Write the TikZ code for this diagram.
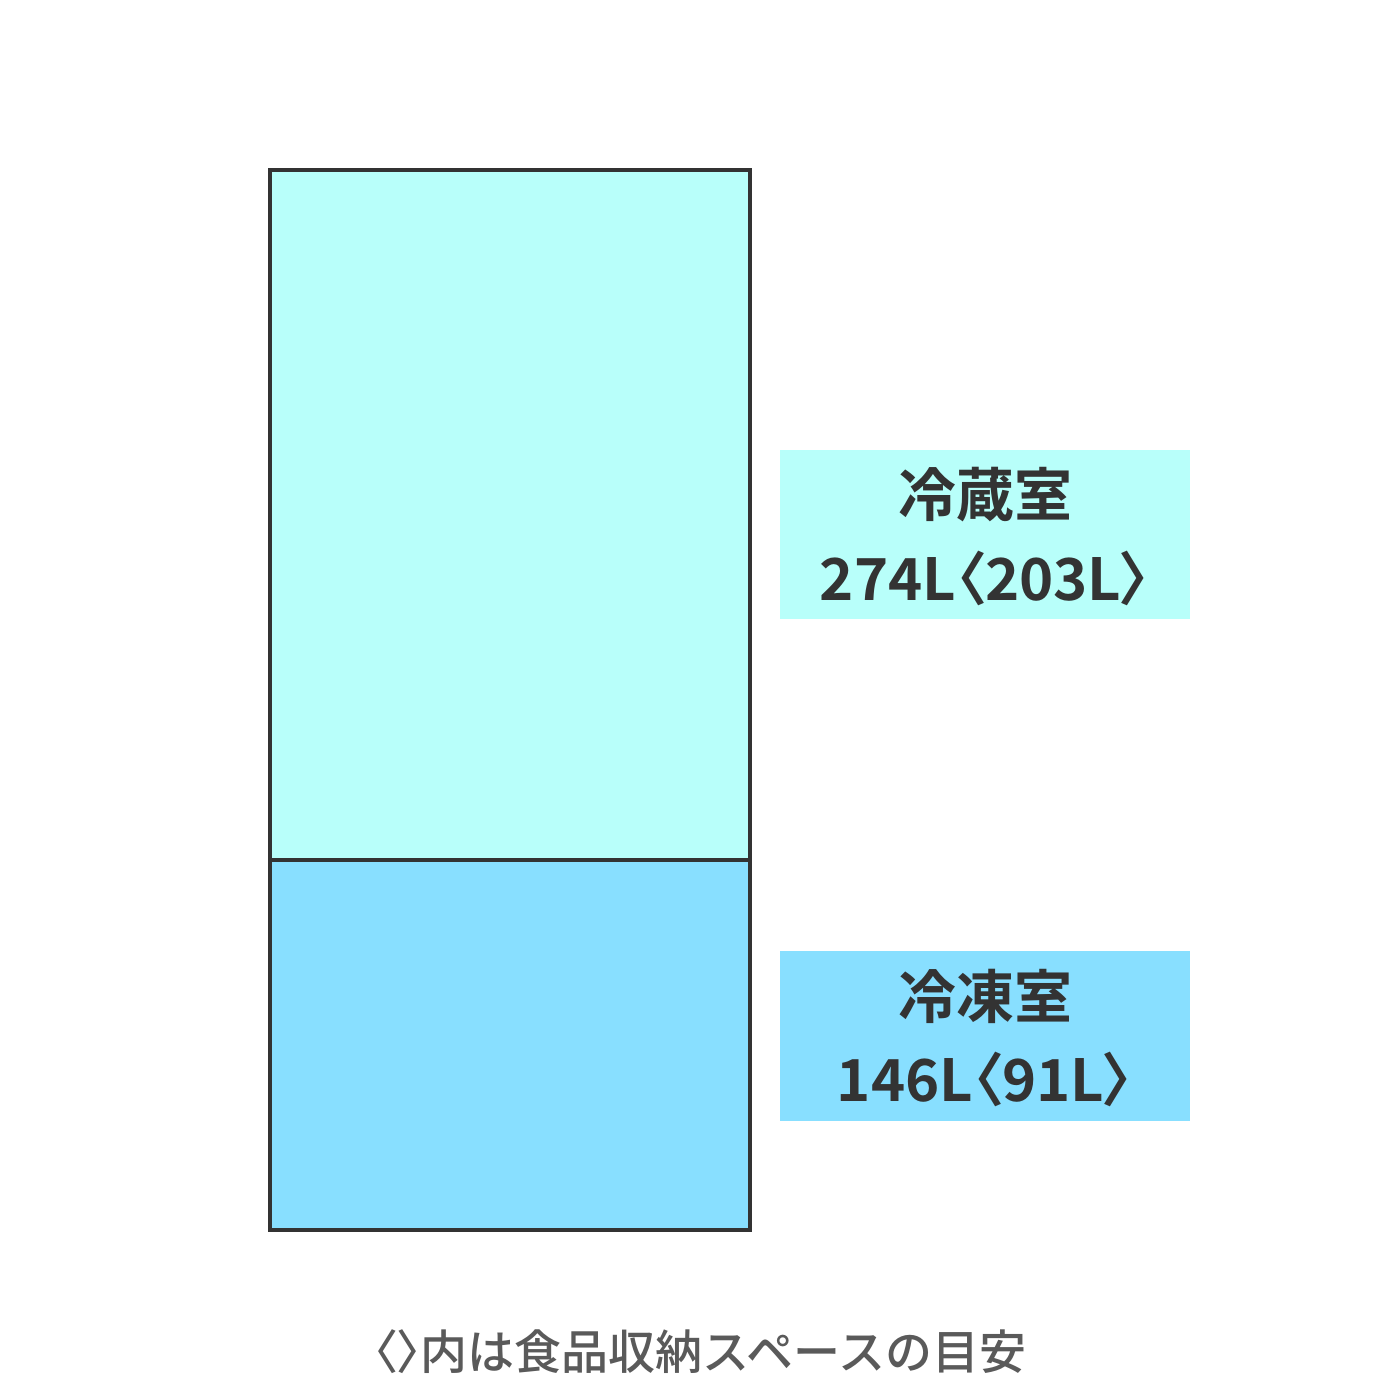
\documentclass[tikz,border=0pt]{standalone}
\usepackage{fontspec}
\newfontfamily\jpb{Noto Sans CJK JP Bold}
\newfontfamily\jpbp[RawFeature=+palt]{Noto Sans CJK JP Bold}
\newfontfamily\jpm{Noto Sans CJK JP Medium}
\newfontfamily\jpmp[RawFeature=+palt]{Noto Sans CJK JP Medium}
\definecolor{upc}{RGB}{184,255,250}
\definecolor{loc}{RGB}{136,223,255}
\definecolor{edge}{RGB}{51,51,51}
\definecolor{cap}{RGB}{90,90,90}
\begin{document}
\begin{tikzpicture}[x=0.5pt,y=-0.5pt,
  lbl/.style={font=\jpb\fontsize{29pt}{34pt}\selectfont, text=edge, inner sep=0pt},
  capt/.style={font=\jpm\fontsize{23.5pt}{28pt}\selectfont, text=cap, inner sep=0pt}]
\useasboundingbox (0,0) rectangle (1400,1400);
\fill[white] (0,0) rectangle (1400,1400);
% compartments
\fill[upc] (270,170) rectangle (750,860);
\fill[loc] (270,860) rectangle (750,1230);
\draw[edge, line width=2pt] (270,860) -- (750,860);
\draw[edge, line width=2pt] (270,170) rectangle (750,1230);
% label boxes
\fill[upc] (780,450) rectangle (1190,619);
\fill[loc] (780,951) rectangle (1190,1121);
\node[lbl] (t1) at (985,495) {冷蔵室};
\node[lbl] (v1) at (985,578) {274L{\jpbp〈}203L{\jpbp〉}};
\node[lbl] (t2) at (985,996) {冷凍室};
\node[lbl] (v2) at (985,1079) {146L{\jpbp〈}91L{\jpbp〉}};
\node[capt] (c) at (700,1352) {{\jpmp〈〉}内は食品収納スペースの目安};
\end{tikzpicture}
\end{document}
